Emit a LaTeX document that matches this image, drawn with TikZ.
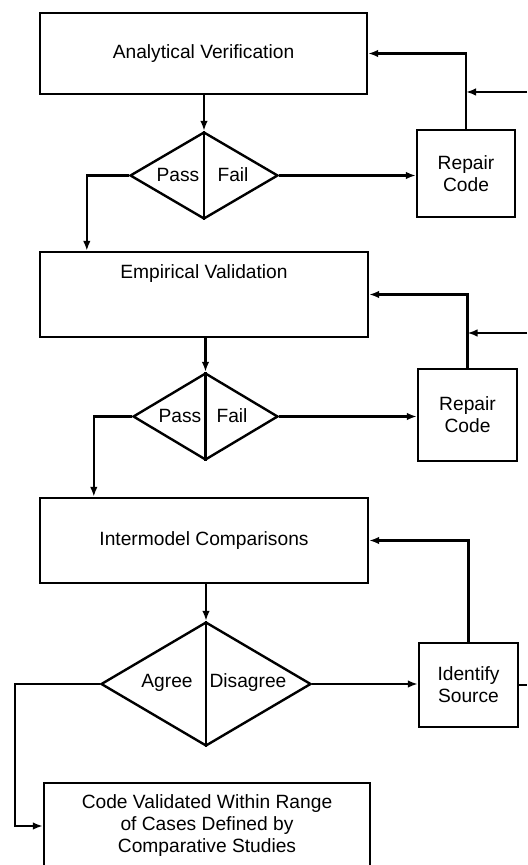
\documentclass[tikz,border=0pt]{standalone}
\usepackage{fontspec}
\setmainfont{Liberation Sans}
\usetikzlibrary{shapes.geometric,arrows.meta,calc}

\begin{document}
\begin{tikzpicture}[x=0.5pt,y=-0.5pt,line width=1.2pt,
    font=\fontsize{9.6}{11}\selectfont,
    stagebox/.style={draw,rectangle,inner sep=0pt,minimum width=164pt,minimum height=42.5pt,align=center},
    fixbox/.style={draw,rectangle,inner sep=0pt,minimum width=49.5pt,align=center},
    test/.style={draw,diamond,inner sep=0pt},
    arr/.style={-{Latex[length=5pt,width=3.8pt]}}]
      \useasboundingbox (0,0) rectangle (527,865);

      %%%%%%%%%%%%%%%%%%%%%%%%%%%%%%%%%%%%%%%%%%%%%%%%%%%%%%%%%%%%%%%%%%%%%%%%%%%
      %%%%  Boxes
      \node[stagebox,minimum width=163.5pt,minimum height=40.5pt] (anver) at (203.5,53.5) {Analytical Verification};
      \node[stagebox,text height=13.5pt,text depth=29pt] (emval) at (204,294.5) {Empirical Validation};
      \node[stagebox] (intcmp) at (204,540.5) {Intermodel Comparisons};
      \node[stagebox,minimum width=163pt,minimum height=43pt] (valid) at (207,826)
        {Code Validated Within Range\\of Cases Defined by\\Comparative Studies};

      \node[fixbox,minimum width=49pt,minimum height=43.5pt] (anrep) at (466,173.5) {Repair\\Code};
      \node[fixbox,minimum height=46pt] (emrep) at (467.5,415) {Repair\\Code};
      \node[fixbox,minimum height=42pt] (idsrc) at (468.5,685) {Identify\\Source};

      %%%%%%%%%%%%%%%%%%%%%%%%%%%%%%%%%%%%%%%%%%%%%%%%%%%%%%%%%%%%%%%%%%%%%%%%%%%
      %%%%  Decisions
      \node[test,minimum width=74pt,minimum height=43.5pt] (anpf) at (204,175.5) {};
      \node[test,minimum width=72.5pt,minimum height=43.5pt] (empf) at (205.5,416.5) {};
      \node[test,minimum width=105pt,minimum height=62pt] (agdis) at (206,684) {};
      \foreach \d in {anpf,empf,agdis}
       {\draw (\d.north) -- (\d.south);};

      \node (anpass) at (178,175) {Pass};
      \node (anfail) at (233,175) {Fail};
      \node (empass) at (180,416) {Pass};
      \node (emfail) at (232,416) {Fail};
      \node (agree) at (167,683) {Agree};
      \node (disag) at (248,683) {Disagree};

      %%%%%%%%%%%%%%%%%%%%%%%%%%%%%%%%%%%%%%%%%%%%%%%%%%%%%%%%%%%%%%%%%%%%%%%%%%%
      %%%%  Flow
      \coordinate (anin) at (527,92);
      \coordinate (emin) at (527,333);
      \coordinate (idout) at (527,685);

      \draw[arr] (anpf.north |- anver.south) -- (anpf.north);
      \draw[arr] (anpf.east) -- (anpf.east -| anrep.west);
      \draw[arr] (anrep.north) |- (anver.east);
      \draw[arr] (anin) -- (anin -| anrep.north);
      \draw[arr] (anpf.west) -| ($(emval.north west)+(48,0)$);

      \draw[arr] (empf.north |- emval.south) -- (empf.north);
      \draw[arr] (empf.east) -- (empf.east -| emrep.west);
      \draw[arr] (emrep.north) |- (emval.east);
      \draw[arr] (emin) -- (emin -| emrep.north);
      \draw[arr] (empf.west) -| ($(intcmp.north west)+(55,0)$);

      \draw[arr] (agdis.north |- intcmp.south) -- (agdis.north);
      \draw[arr] (agdis.east) -- (agdis.east -| idsrc.west);
      \draw[arr] (idsrc.north) |- (intcmp.east);
      \draw (idsrc.east) -- (idout);
      \draw[arr] (agdis.west) -- ++(-85,0) |- (valid.west);
    \end{tikzpicture}
\end{document}
